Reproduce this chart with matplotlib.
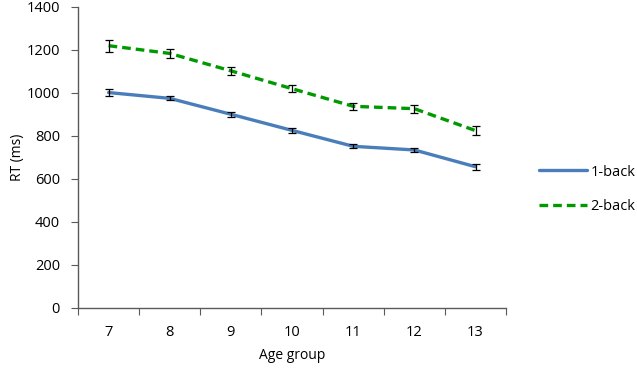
import matplotlib.pyplot as plt

plt.rcParams['font.family'] = ['Open Sans', 'DejaVu Sans']

age_groups = ['7', '8', '9', '10', '11', '12', '13']
rt_1back = [1002, 975, 901, 826, 752, 735, 657]
err_1back = [18, 9, 11, 11, 10, 10, 15]
rt_2back = [1220, 1184, 1103, 1020, 938, 927, 825]
err_2back = [28, 19, 18, 16, 17, 19, 20]

fig = plt.figure(figsize=(6.37, 3.70), dpi=100)
ax = fig.add_axes([0.1225, 0.1676, 0.672, 0.8135])

x = list(range(len(age_groups)))

ax.plot(x, rt_1back, color='#4a7ebb', lw=2.4, solid_capstyle='round', label='1-back', zorder=2)
ax.plot(x, rt_2back, color='#009a00', lw=2.4, linestyle=(0, (2.6, 1.5)), label='2-back', zorder=2)
ax.errorbar(x, rt_1back, yerr=err_1back, fmt='none', ecolor='black', elinewidth=0.9, capsize=3, capthick=0.9, zorder=3)
ax.errorbar(x, rt_2back, yerr=err_2back, fmt='none', ecolor='black', elinewidth=0.9, capsize=3, capthick=0.9, zorder=3)

# eixos
ax.set_xlim(-0.5, 6.5)
ax.set_ylim(0, 1400)
ax.set_yticks(range(0, 1401, 200))
ax.set_xticks([i - 0.5 for i in range(8)])
ax.set_xticklabels([])
ax.set_xticks(x, minor=True)
ax.set_xticklabels(age_groups, minor=True)
ax.tick_params(axis='x', which='major', length=5, direction='out', color='#5a5a5a')
ax.tick_params(axis='x', which='minor', length=0, pad=12, labelsize=10.5)
ax.tick_params(axis='y', length=5, direction='out', color='#5a5a5a', pad=8, labelsize=10.5)

for s in ['top', 'right']:
    ax.spines[s].set_visible(False)
for s in ['left', 'bottom']:
    ax.spines[s].set_color('#5a5a5a')
    ax.spines[s].set_linewidth(1)

ax.set_xlabel('Age group', fontsize=10, labelpad=6)
ax.set_ylabel('RT (ms)', fontsize=10)
ax.yaxis.set_label_coords(-0.125, 0.5)

fig.legend(loc='center left', bbox_to_anchor=(0.826, 0.488), frameon=False,
           fontsize=10.5, handlelength=3.3, handletextpad=0.2, labelspacing=1.35)

fig.savefig('out.png', dpi=100)
